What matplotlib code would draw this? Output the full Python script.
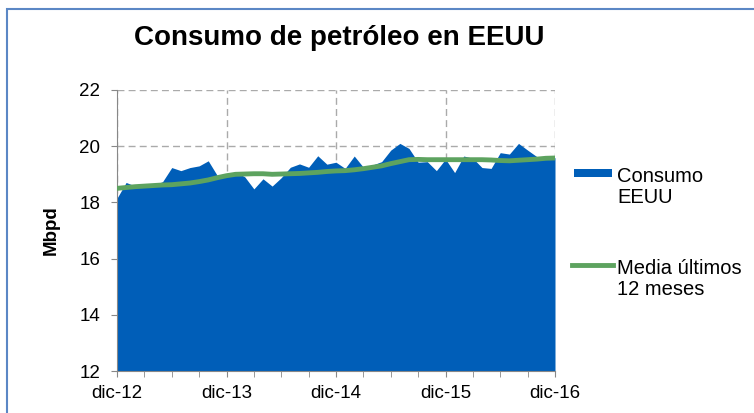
import matplotlib
matplotlib.use("Agg")
import matplotlib.pyplot as plt
from matplotlib.patches import Rectangle
from matplotlib.lines import Line2D
import numpy as np

plt.rcParams["font.family"] = ["Liberation Sans", "DejaVu Sans"]

# datos mensuales dic-12 .. dic-16 (Mbpd)
meses = np.arange(49)
consumo = [18.15, 18.71, 18.58, 18.57, 18.60, 18.74, 19.24, 19.13, 19.24, 19.30,
           19.48, 18.95, 19.00, 19.09, 18.91, 18.48, 18.84, 18.58, 18.88, 19.25,
           19.37, 19.25, 19.66, 19.36, 19.43, 19.21, 19.65, 19.25, 19.33, 19.45,
           19.86, 20.10, 19.92, 19.43, 19.45, 19.13, 19.54, 19.06, 19.65, 19.57,
           19.24, 19.21, 19.77, 19.72, 20.10, 19.86, 19.63, 19.63, 19.59]
media = [18.50, 18.53, 18.56, 18.58, 18.60, 18.62, 18.63, 18.66, 18.69, 18.74,
         18.80, 18.88, 18.95, 19.00, 19.01, 19.02, 19.02, 19.00, 19.01, 19.02,
         19.03, 19.05, 19.07, 19.10, 19.12, 19.13, 19.16, 19.20, 19.25, 19.30,
         19.38, 19.45, 19.52, 19.53, 19.52, 19.52, 19.52, 19.52, 19.52, 19.52,
         19.52, 19.51, 19.49, 19.48, 19.50, 19.52, 19.54, 19.57, 19.58]
etiquetas = ["dic-12", "dic-13", "dic-14", "dic-15", "dic-16"]

azul = "#005EB8"
verde = "#5DA35F"
W, H = 754, 413

fig = plt.figure(figsize=(7.54, 4.13), dpi=100)
ax = fig.add_axes([117 / W, 1 - 371 / H, 438 / W, 281 / H])

ax.fill_between(meses, consumo, 12, color=azul, linewidth=0, zorder=2)
ax.plot(meses, media, color=verde, linewidth=3.5, zorder=3)

ax.set_xlim(0, 48)
ax.set_ylim(12, 22)
ax.set_yticks([12, 14, 16, 18, 20, 22])
ax.set_xticks(np.arange(0, 49, 12))
ax.set_xticklabels(etiquetas)
ax.set_xticks(np.arange(0, 49, 3), minor=True)

ax.grid(True, which="major", color="#AAAAAA", linestyle=(0, (5, 3)), linewidth=1, zorder=1)
for s in ["top", "right"]:
    ax.spines[s].set_visible(False)
for s in ["left", "bottom"]:
    ax.spines[s].set_color("#888888")
ax.tick_params(axis="both", which="both", direction="out", color="#888888",
               labelsize=13.5, length=4)
ax.tick_params(axis="y", pad=8)
ax.tick_params(axis="x", pad=6)
ax.set_ylabel("Mbpd", fontsize=13.5, fontweight="bold", labelpad=14)

fig.text(339 / W, 1 - 38 / H, "Consumo de petróleo en EEUU",
         ha="center", va="center", fontsize=20, fontweight="bold")

# leyenda
fig.add_artist(Rectangle((574 / W, 1 - 177 / H), 38 / W, 8 / H,
                         transform=fig.transFigure, facecolor=azul, edgecolor="none"))
fig.add_artist(Line2D([572 / W, 613 / W], [1 - 265 / H, 1 - 265 / H],
                      transform=fig.transFigure, color=verde, linewidth=3.5))
fig.text(617 / W, 1 - 203 / H, "Consumo\nEEUU", ha="left", va="baseline",
         fontsize=14.5, linespacing=1.15)
fig.text(617 / W, 1 - 295 / H, "Media últimos\n12 meses", ha="left", va="baseline",
         fontsize=14.5, linespacing=1.15)

# marco exterior
fig.add_artist(Rectangle((7 / W, -0.1), 1.2, 1 - 9 / H + 0.1,
                         transform=fig.transFigure, fill=False,
                         edgecolor="#5B87C5", linewidth=1.5))

fig.savefig("out.png", dpi=100)
